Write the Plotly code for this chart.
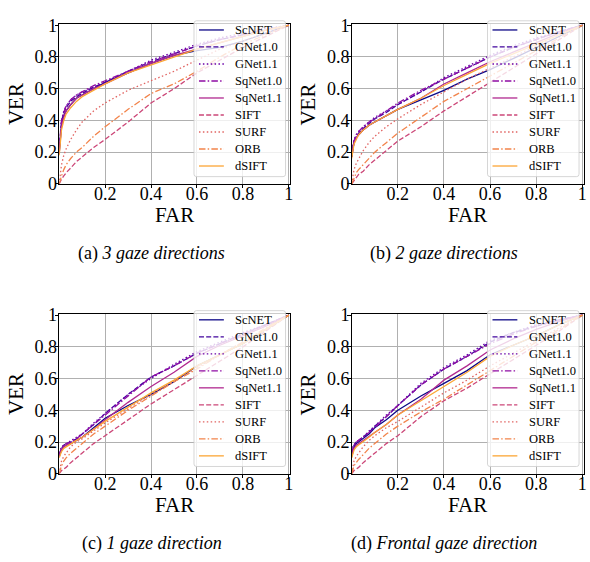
import plotly.graph_objects as go

# False acceptance rate grid shared by all curves
FAR = [0, 0.005, 0.01, 0.02, 0.03, 0.05, 0.075, 0.1, 0.15, 0.2,
       0.3, 0.4, 0.5, 0.6, 0.7, 0.8, 0.9, 1.0]

METHODS = ["ScNET", "GNet1.0", "GNet1.1", "SqNet1.0", "SqNet1.1",
           "SIFT", "SURF", "ORB", "dSIFT"]

# (a) 3 gaze directions
A_SCNET = [0.20, 0.31, 0.37, 0.43, 0.46, 0.50, 0.54, 0.56, 0.60, 0.64, 0.70, 0.76, 0.81, 0.84, 0.86, 0.90, 0.95, 1.0]
A_GNET10 = [0.22, 0.33, 0.39, 0.45, 0.48, 0.52, 0.55, 0.57, 0.61, 0.64, 0.71, 0.77, 0.82, 0.87, 0.91, 0.94, 0.97, 1.0]
A_GNET11 = [0.23, 0.34, 0.40, 0.46, 0.49, 0.53, 0.56, 0.58, 0.61, 0.64, 0.71, 0.78, 0.83, 0.88, 0.92, 0.95, 0.98, 1.0]
A_SQNET10 = [0.22, 0.33, 0.40, 0.45, 0.49, 0.53, 0.56, 0.58, 0.62, 0.65, 0.71, 0.77, 0.82, 0.87, 0.91, 0.94, 0.97, 1.0]
A_SQNET11 = [0.19, 0.30, 0.36, 0.42, 0.46, 0.50, 0.54, 0.56, 0.60, 0.63, 0.70, 0.76, 0.81, 0.85, 0.89, 0.93, 0.97, 1.0]
A_SIFT = [0.0, 0.02, 0.03, 0.05, 0.07, 0.10, 0.14, 0.17, 0.23, 0.28, 0.39, 0.51, 0.60, 0.70, 0.78, 0.86, 0.93, 1.0]
A_SURF = [0.0, 0.08, 0.12, 0.18, 0.22, 0.28, 0.34, 0.39, 0.46, 0.51, 0.59, 0.65, 0.71, 0.78, 0.85, 0.90, 0.95, 1.0]
A_ORB = [0.0, 0.03, 0.05, 0.09, 0.12, 0.16, 0.20, 0.23, 0.30, 0.36, 0.47, 0.57, 0.63, 0.71, 0.80, 0.88, 0.94, 1.0]
A_DSIFT = [0.18, 0.28, 0.34, 0.40, 0.44, 0.48, 0.52, 0.55, 0.59, 0.63, 0.70, 0.75, 0.80, 0.85, 0.89, 0.93, 0.97, 1.0]

# (b) 2 gaze directions
B_SCNET = [0.17, 0.23, 0.26, 0.29, 0.31, 0.34, 0.37, 0.39, 0.43, 0.47, 0.53, 0.59, 0.66, 0.72, 0.79, 0.86, 0.93, 1.0]
B_GNET10 = [0.18, 0.24, 0.27, 0.30, 0.32, 0.35, 0.38, 0.41, 0.45, 0.50, 0.58, 0.66, 0.73, 0.80, 0.86, 0.91, 0.96, 1.0]
B_GNET11 = [0.19, 0.25, 0.28, 0.31, 0.33, 0.36, 0.39, 0.42, 0.46, 0.50, 0.58, 0.67, 0.74, 0.81, 0.87, 0.92, 0.96, 1.0]
B_SQNET10 = [0.18, 0.24, 0.27, 0.31, 0.33, 0.36, 0.39, 0.41, 0.46, 0.51, 0.59, 0.66, 0.73, 0.80, 0.86, 0.91, 0.96, 1.0]
B_SQNET11 = [0.17, 0.23, 0.26, 0.29, 0.31, 0.34, 0.37, 0.39, 0.43, 0.47, 0.54, 0.63, 0.70, 0.77, 0.83, 0.89, 0.95, 1.0]
B_SIFT = [0.0, 0.01, 0.02, 0.04, 0.06, 0.08, 0.12, 0.15, 0.21, 0.27, 0.36, 0.46, 0.55, 0.64, 0.73, 0.82, 0.91, 1.0]
B_SURF = [0.0, 0.06, 0.09, 0.13, 0.16, 0.21, 0.26, 0.30, 0.36, 0.41, 0.50, 0.58, 0.66, 0.73, 0.80, 0.87, 0.94, 1.0]
B_ORB = [0.0, 0.02, 0.04, 0.07, 0.09, 0.12, 0.16, 0.20, 0.26, 0.32, 0.42, 0.52, 0.60, 0.68, 0.76, 0.84, 0.92, 1.0]
B_DSIFT = [0.16, 0.22, 0.25, 0.28, 0.31, 0.34, 0.37, 0.39, 0.43, 0.47, 0.54, 0.62, 0.69, 0.76, 0.82, 0.88, 0.94, 1.0]

# (c) 1 gaze direction
C_SCNET = [0.11, 0.13, 0.15, 0.17, 0.18, 0.19, 0.21, 0.23, 0.29, 0.35, 0.43, 0.50, 0.58, 0.68, 0.75, 0.82, 0.91, 1.0]
C_GNET10 = [0.12, 0.14, 0.16, 0.18, 0.19, 0.20, 0.22, 0.25, 0.31, 0.38, 0.50, 0.61, 0.68, 0.76, 0.82, 0.88, 0.94, 1.0]
C_GNET11 = [0.13, 0.15, 0.17, 0.18, 0.19, 0.21, 0.23, 0.25, 0.32, 0.38, 0.50, 0.60, 0.69, 0.77, 0.83, 0.89, 0.94, 1.0]
C_SQNET10 = [0.12, 0.14, 0.16, 0.18, 0.19, 0.20, 0.22, 0.25, 0.31, 0.37, 0.49, 0.61, 0.68, 0.76, 0.82, 0.88, 0.94, 1.0]
C_SQNET11 = [0.11, 0.13, 0.15, 0.17, 0.18, 0.19, 0.21, 0.23, 0.28, 0.34, 0.45, 0.55, 0.64, 0.74, 0.81, 0.87, 0.93, 1.0]
C_SIFT = [0.0, 0.01, 0.02, 0.03, 0.04, 0.07, 0.10, 0.13, 0.19, 0.24, 0.34, 0.44, 0.53, 0.62, 0.71, 0.80, 0.90, 1.0]
C_SURF = [0.0, 0.05, 0.08, 0.11, 0.13, 0.17, 0.20, 0.22, 0.27, 0.32, 0.41, 0.50, 0.58, 0.67, 0.75, 0.83, 0.91, 1.0]
C_ORB = [0.0, 0.03, 0.05, 0.08, 0.10, 0.13, 0.16, 0.19, 0.25, 0.30, 0.40, 0.49, 0.58, 0.66, 0.75, 0.83, 0.92, 1.0]
C_DSIFT = [0.10, 0.12, 0.14, 0.16, 0.17, 0.19, 0.21, 0.23, 0.28, 0.33, 0.42, 0.51, 0.59, 0.68, 0.75, 0.82, 0.91, 1.0]

# (d) Frontal gaze direction
D_SCNET = [0.12, 0.15, 0.17, 0.19, 0.20, 0.22, 0.25, 0.29, 0.34, 0.40, 0.49, 0.57, 0.65, 0.75, 0.81, 0.87, 0.94, 1.0]
D_GNET10 = [0.13, 0.16, 0.18, 0.20, 0.21, 0.23, 0.26, 0.30, 0.36, 0.43, 0.56, 0.66, 0.74, 0.83, 0.89, 0.93, 0.97, 1.0]
D_GNET11 = [0.14, 0.17, 0.18, 0.20, 0.21, 0.23, 0.27, 0.30, 0.37, 0.43, 0.57, 0.67, 0.75, 0.84, 0.89, 0.94, 0.97, 1.0]
D_SQNET10 = [0.13, 0.16, 0.18, 0.20, 0.21, 0.23, 0.26, 0.29, 0.36, 0.43, 0.56, 0.66, 0.74, 0.82, 0.88, 0.93, 0.97, 1.0]
D_SQNET11 = [0.11, 0.14, 0.16, 0.18, 0.19, 0.21, 0.23, 0.26, 0.31, 0.37, 0.47, 0.59, 0.68, 0.78, 0.85, 0.91, 0.96, 1.0]
D_SIFT = [0.0, 0.01, 0.02, 0.03, 0.04, 0.07, 0.10, 0.13, 0.19, 0.24, 0.36, 0.46, 0.54, 0.63, 0.72, 0.81, 0.90, 1.0]
D_SURF = [0.0, 0.05, 0.08, 0.11, 0.13, 0.17, 0.21, 0.24, 0.29, 0.33, 0.42, 0.51, 0.59, 0.68, 0.76, 0.84, 0.92, 1.0]
D_ORB = [0.0, 0.03, 0.05, 0.07, 0.09, 0.12, 0.16, 0.19, 0.25, 0.30, 0.39, 0.47, 0.56, 0.65, 0.74, 0.83, 0.91, 1.0]
D_DSIFT = [0.10, 0.13, 0.15, 0.17, 0.18, 0.20, 0.23, 0.26, 0.31, 0.37, 0.46, 0.55, 0.64, 0.74, 0.81, 0.87, 0.94, 1.0]

PANEL_LABELS = ["(a)", "(b)", "(c)", "(d)"]
PANEL_TITLES = ["3 gaze directions", "2 gaze directions",
                "1 gaze direction", "Frontal gaze direction"]

X_TICKS = [0.2, 0.4, 0.6, 0.8, 1.0]
X_TICK_TEXT = ["0.2", "0.4", "0.6", "0.8", "1"]
Y_TICKS = [0, 0.2, 0.4, 0.6, 0.8, 1.0]
Y_TICK_TEXT = ["0", "0.2", "0.4", "0.6", "0.8", "1"]

PANEL_DATA = [
    [A_SCNET, A_GNET10, A_GNET11, A_SQNET10, A_SQNET11, A_SIFT, A_SURF, A_ORB, A_DSIFT],
    [B_SCNET, B_GNET10, B_GNET11, B_SQNET10, B_SQNET11, B_SIFT, B_SURF, B_ORB, B_DSIFT],
    [C_SCNET, C_GNET10, C_GNET11, C_SQNET10, C_SQNET11, C_SIFT, C_SURF, C_ORB, C_DSIFT],
    [D_SCNET, D_GNET10, D_GNET11, D_SQNET10, D_SQNET11, D_SIFT, D_SURF, D_ORB, D_DSIFT],
]

# plasma colormap samples, one per method
COLORS = ["#0d0887", "#41049d", "#6a00a8", "#8f0da4", "#b12a90",
          "#cc4778", "#e16462", "#f2844b", "#fca636"]
SOLID, DASHED, DOTTED, DASHDOT = "solid", "5px,2.2px", "1.5px,2.4px", "6.5px,2.2px,1.5px,2.2px"
DASHES = [SOLID, DASHED, DOTTED, DASHDOT, SOLID, DASHED, DOTTED, DASHDOT, SOLID]

W, H = 590, 562
SERIF = "Liberation Serif"
LW = 1.3

# plot areas in pixels: left, right, top, bottom
AREAS = [(59.5, 291.5, 16, 181), (353.5, 586.5, 16, 181),
         (59.5, 291.5, 316, 481), (353.5, 586.5, 316, 481)]


def px(x):
    return x / W


def py(y):
    return 1 - y / H


fig = go.Figure()
shapes = []
annotations = []

for i, (l, r, t, b) in enumerate(AREAS):
    k = "" if i == 0 else str(i + 1)
    for j, name in enumerate(METHODS):
        fig.add_trace(go.Scatter(
            x=FAR, y=PANEL_DATA[i][j], mode="lines", name=name,
            line=dict(color=COLORS[j], width=LW, dash=DASHES[j]),
            showlegend=False, xaxis="x" + k, yaxis="y" + k,
        ))
    common = dict(showline=True, mirror=True, linecolor="black", linewidth=1,
                  ticks="outside", ticklen=3.5, tickwidth=0.8, tickcolor="black",
                  showgrid=True, gridcolor="#b0b0b0", gridwidth=0.8,
                  zeroline=False, tickfont=dict(family=SERIF, size=18, color="black"))
    fig.update_layout(**{
        "xaxis" + k: dict(domain=[px(l), px(r)], range=[0, 1.005], anchor="y" + k,
                          tickvals=X_TICKS, ticktext=X_TICK_TEXT,
                          ticklabelstandoff=-10, **common),
        "yaxis" + k: dict(domain=[py(b), py(t)], range=[0, 1.005], anchor="x" + k,
                          tickvals=Y_TICKS, ticktext=Y_TICK_TEXT,
                          ticklabelstandoff=-6, **common),
    })

    # axis titles
    annotations.append(dict(x=px((l + r) / 2), y=py(b + 32), xref="paper", yref="paper",
                            text="FAR", showarrow=False, xanchor="center", yanchor="middle",
                            font=dict(family=SERIF, size=21, color="black")))
    annotations.append(dict(x=px(l - 43.5), y=py((t + b) / 2), xref="paper", yref="paper",
                            text="VER", showarrow=False, textangle=-90,
                            xanchor="center", yanchor="middle",
                            font=dict(family=SERIF, size=21, color="black")))
    # sub-caption
    annotations.append(dict(x=px(l + 93), y=py(b + 72), xref="paper", yref="paper",
                            text=PANEL_LABELS[i] + " <i>" + PANEL_TITLES[i] + "</i>",
                            showarrow=False, xanchor="center", yanchor="middle",
                            font=dict(family=SERIF, size=18, color="black")))

    # legend box (semi-transparent, rounded corners)
    bl, br, bt, bb = r - 96.5, r - 4.5, t - 3.8, t + 157.5
    rad = 2.5
    path = (f"M {px(bl + rad)},{py(bt)} L {px(br - rad)},{py(bt)} "
            f"Q {px(br)},{py(bt)} {px(br)},{py(bt + rad)} "
            f"L {px(br)},{py(bb - rad)} Q {px(br)},{py(bb)} {px(br - rad)},{py(bb)} "
            f"L {px(bl + rad)},{py(bb)} Q {px(bl)},{py(bb)} {px(bl)},{py(bb - rad)} "
            f"L {px(bl)},{py(bt + rad)} Q {px(bl)},{py(bt)} {px(bl + rad)},{py(bt)} Z")
    shapes.append(dict(type="path", path=path, xref="paper", yref="paper",
                       fillcolor="rgba(255,255,255,0.8)",
                       line=dict(color="rgba(204,204,204,0.8)", width=1), layer="above"))
    for j, name in enumerate(METHODS):
        yy = t + 5.7 + 17.6 * j
        shapes.append(dict(type="line", xref="paper", yref="paper",
                           x0=px(r - 91.5), x1=px(r - 66.5), y0=py(yy), y1=py(yy),
                           line=dict(color=COLORS[j], width=LW, dash=DASHES[j]),
                           layer="above"))
        annotations.append(dict(x=px(r - 57), y=py(yy), xref="paper", yref="paper",
                                text=name, showarrow=False, xanchor="left", yanchor="middle",
                                font=dict(family=SERIF, size=12.5, color="black")))

fig.update_layout(width=W, height=H, margin=dict(l=0, r=0, t=0, b=0),
                  paper_bgcolor="white", plot_bgcolor="white",
                  shapes=shapes, annotations=annotations, showlegend=False)

fig.write_html("out.html")
